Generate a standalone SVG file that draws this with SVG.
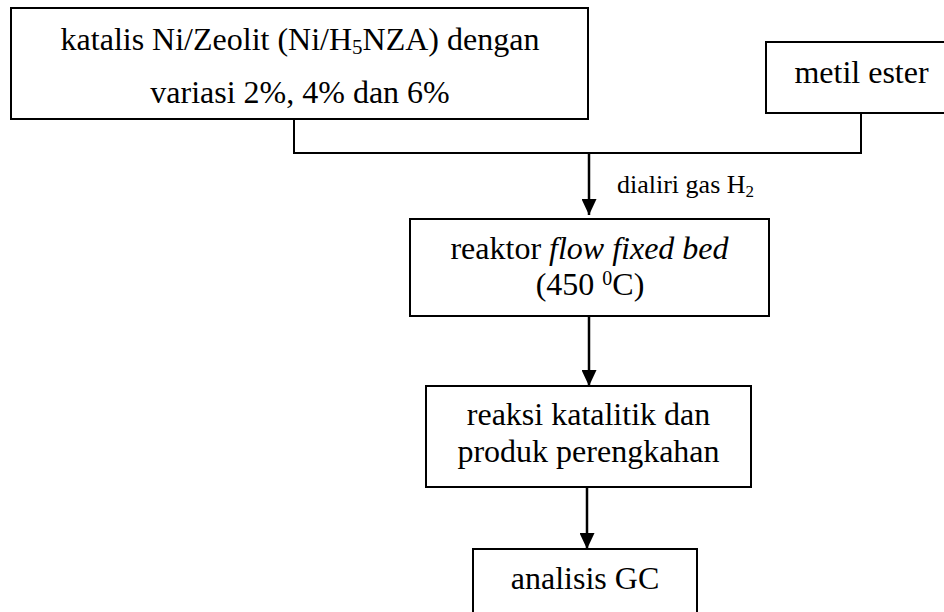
<svg xmlns="http://www.w3.org/2000/svg" width="944" height="612" viewBox="0 0 944 612">
<style>
.box{fill:#fff;stroke:#000;stroke-width:2}
.t{font-family:"Liberation Serif","Times New Roman",serif;font-size:32px;fill:#000;text-anchor:middle}
.lbl{font-family:"Liberation Serif","Times New Roman",serif;font-size:26px;fill:#000}
.con{fill:none;stroke:#000;stroke-width:2}
.arr{fill:none;stroke:#000;stroke-width:2.5}
</style>
<defs>
<marker id="ah" markerUnits="userSpaceOnUse" markerWidth="16" markerHeight="15" refX="16" refY="7.5" orient="auto" viewBox="0 0 16 15">
<path d="M0,0 L16,7.5 L0,15 z" fill="#000"/>
</marker>
</defs>
<rect width="944" height="612" fill="#fff"/>
<g id="connectors">
<polyline class="con" points="294,119 294,153 861,153 861,113"/>
<line class="arr" x1="589" y1="153" x2="589" y2="215" marker-end="url(#ah)"/>
<line class="arr" x1="589" y1="317" x2="589" y2="386" marker-end="url(#ah)"/>
<line class="arr" x1="587" y1="488" x2="587" y2="549" marker-end="url(#ah)"/>
<text class="lbl" x="617" y="193">dialiri gas H<tspan font-size="17" dy="4">2</tspan></text>
</g>
<g id="katalis">
<rect class="box" x="11" y="8" width="577" height="111"/>
<text class="t" x="300" y="50">katalis Ni/Zeolit (Ni/H<tspan font-size="21" dy="4">5</tspan><tspan dy="-4">NZA) dengan</tspan></text>
<text class="t" x="300" y="103">variasi 2%, 4% dan 6%</text>
</g>
<g id="metil">
<rect class="box" x="766" y="42" width="200" height="71"/>
<text class="t" x="861.5" y="83">metil ester</text>
</g>
<g id="reaktor">
<rect class="box" x="410" y="219" width="359" height="97"/>
<text class="t" x="589.5" y="259">reaktor <tspan font-style="italic">flow fixed bed</tspan></text>
<text class="t" x="590" y="295">(450 <tspan font-size="20" dy="-10">0</tspan><tspan dy="10">C)</tspan></text>
</g>
<g id="reaksi">
<rect class="box" x="426" y="386" width="325" height="101"/>
<text class="t" x="588.5" y="425">reaksi katalitik dan</text>
<text class="t" x="588.5" y="462">produk perengkahan</text>
</g>
<g id="analisis">
<rect class="box" x="473" y="549" width="224" height="90"/>
<text class="t" x="585" y="589">analisis GC</text>
</g>
</svg>
